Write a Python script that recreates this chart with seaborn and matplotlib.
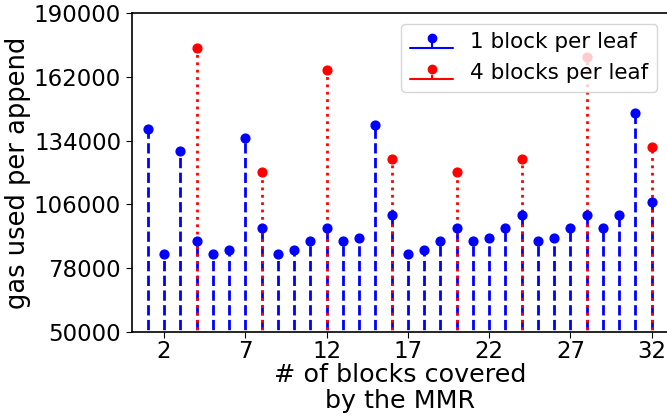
import matplotlib
matplotlib.use("Agg")
import matplotlib.pyplot as plt
import seaborn as sns
from matplotlib.container import StemContainer
from matplotlib.lines import Line2D

# ---- data ----
blocks = list(range(1, 33))
gas_1_per_leaf = [139000, 84400, 129600, 90100, 84400, 86000, 135100, 95600,
                  84400, 86000, 90100, 95600, 90100, 91400, 140700, 101500,
                  84400, 86000, 90100, 95600, 90100, 91400, 95600, 101500,
                  90100, 91400, 95600, 101500, 95600, 101500, 146100, 106900]
blocks_4 = [4, 8, 12, 16, 20, 24, 28, 32]
gas_4_per_leaf = [174500, 120100, 165100, 125800, 120100, 125800, 170500, 131300]
series_labels = ["1 block per leaf", "4 blocks per leaf"]
x_ticks = [2, 7, 12, 17, 22, 27, 32]
y_ticks = [50000, 78000, 106000, 134000, 162000, 190000]
x_label = "# of blocks covered\nby the MMR"
y_label = "gas used per append"

sns.set_style("ticks", rc={"axes.edgecolor": "black", "text.color": "black",
                           "xtick.color": "black", "ytick.color": "black",
                           "axes.labelcolor": "black"})
plt.rcParams["font.family"] = ["DejaVu Sans"]

fig = plt.figure(figsize=(6.67, 4.17), dpi=100)
ax = fig.add_axes([131.5 / 667, 85 / 417, 536.5 / 667, 319 / 417])

stems1 = ax.vlines(blocks, 0, gas_1_per_leaf, colors="blue", linestyles="--",
                   linewidth=2, zorder=2)
stems4 = ax.vlines(blocks_4, 0, gas_4_per_leaf, colors="red", linestyles=":",
                   linewidth=2, zorder=2.1)
sns.scatterplot(x=blocks, y=gas_1_per_leaf, color="blue", s=40,
                edgecolor="blue", linewidth=1, zorder=3, ax=ax, legend=False)
sns.scatterplot(x=blocks_4, y=gas_4_per_leaf, color="red", s=40,
                edgecolor="red", linewidth=1, zorder=3.1, ax=ax, legend=False)

h1 = StemContainer((Line2D([], [], marker="o", color="blue", ls="none", markersize=6),
                    stems1, Line2D([], [], color="blue", lw=1.5)),
                   label=series_labels[0])
h2 = StemContainer((Line2D([], [], marker="o", color="red", ls="none", markersize=6),
                    stems4, Line2D([], [], color="red", lw=1.5)),
                   label=series_labels[1])
leg = ax.legend(handles=[h1, h2], loc="upper right", fontsize=15.5)
leg.set_zorder(5)

ax.set_xlim(0, 33)
ax.set_ylim(50000, 190000)
ax.set_xticks(x_ticks)
ax.set_yticks(y_ticks)
ax.tick_params(labelsize=16.5, direction="out", length=4)
ax.tick_params(axis="x", pad=2)
ax.set_xlabel(x_label, fontsize=18.3, labelpad=-0.5, linespacing=1.1)
ax.set_ylabel(y_label, fontsize=18.5, labelpad=2)
for s in ax.spines.values():
    s.set_linewidth(1.2)

fig.savefig("out.png", dpi=100)
